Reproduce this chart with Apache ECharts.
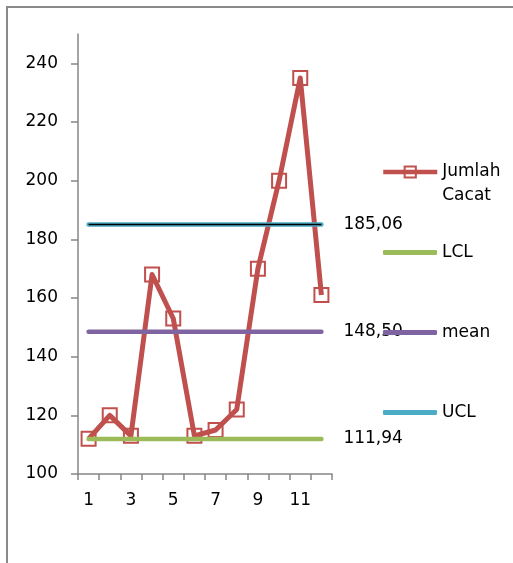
<!DOCTYPE html>
<html><head><meta charset="utf-8">
<script src="https://cdn.jsdelivr.net/npm/echarts@6/dist/echarts.min.js"></script>
<style>
html,body{margin:0;padding:0;background:#fff;overflow:hidden}
#c{width:513px;height:563px;position:absolute;left:0;top:0}
#frame{position:absolute;left:6px;top:6px;width:540px;height:600px;border-left:2px solid #8a8a8a;border-top:2px solid #8a8a8a;pointer-events:none}
</style></head><body>
<div id="c"></div><div id="frame"></div>
<script>
const categories = ['1','2','3','4','5','6','7','8','9','10','11','12'];
const jumlahCacat = [112,120,113,168,153,113,115,122,170,200,235,161];
const lcl  = [111.94,111.94,111.94,111.94,111.94,111.94,111.94,111.94,111.94,111.94,111.94,111.94];
const mean = [148.50,148.50,148.50,148.50,148.50,148.50,148.50,148.50,148.50,148.50,148.50,148.50];
const ucl  = [185.06,185.06,185.06,185.06,185.06,185.06,185.06,185.06,185.06,185.06,185.06,185.06];
const yTicks = [100,120,140,160,180,200,220,240];
const seriesNames = ['Jumlah Cacat','LCL','mean','UCL'];

const FONT = 'DejaVu Sans';
const txt = {fontFamily: FONT, fontSize: 17, color: '#000'};
const fmt = v => v.toFixed(2).replace('.', ',');

function hLine(name, data, color) {
  return {
    name, type: 'line', data, symbol: 'none', z: 3,
    lineStyle: {color, width: 4.5, cap: 'round'},
    itemStyle: {color},
    endLabel: {show: true, distance: 22, formatter: p => fmt(p.value), ...txt}
  };
}

const chart = echarts.init(document.getElementById('c'), null, {renderer: 'canvas'});
const legendBase = {
  orient: 'vertical', left: 383, padding: 0, itemWidth: 54, itemHeight: 5,
  icon: 'roundRect', textStyle: {...txt}, selectedMode: false
};
chart.setOption({
  animation: false,
  backgroundColor: '#fff',
  grid: {left: 78, top: 34, width: 254, height: 440, containLabel: false},
  legend: [
    {orient: 'vertical', left: 381, padding: 0, itemWidth: 54, itemHeight: 14,
     selectedMode: false, top: 136, data: [seriesNames[0]],
     formatter: () => '\nJumlah\nCacat',
     lineStyle: {width: 4.5},
     textStyle: {...txt, lineHeight: 24}},
    {...legendBase, top: 244, data: [seriesNames[1]]},
    {...legendBase, top: 324, data: [seriesNames[2]]},
    {...legendBase, top: 404, data: [seriesNames[3]]}
  ],
  xAxis: {
    type: 'category', data: categories, boundaryGap: true,
    axisLine: {lineStyle: {color: '#868686', width: 1.5}},
    axisTick: {show: true, interval: 0, length: 6, lineStyle: {color: '#868686', width: 1.5}},
    axisLabel: {interval: 1, margin: 18, ...txt},
    splitLine: {show: false}
  },
  yAxis: {
    type: 'value', min: 100, max: 250, interval: 20,
    axisLine: {show: true, lineStyle: {color: '#868686', width: 1.5}},
    axisTick: {show: true, length: 7, customValues: yTicks, lineStyle: {color: '#868686', width: 1.5}},
    axisLabel: {margin: 20, customValues: yTicks, ...txt},
    splitLine: {show: false}
  },
  series: [
    {
      name: seriesNames[0], type: 'line', data: jumlahCacat, z: 2,
      symbol: 'rect', symbolSize: 14,
      lineStyle: {color: '#C0504D', width: 5, join: 'round'},
      itemStyle: {color: 'rgba(255,255,255,0)', borderColor: '#C0504D', borderWidth: 2}
    },
    hLine(seriesNames[1], lcl, '#9BBB59'),
    hLine(seriesNames[2], mean, '#8064A2'),
    hLine(seriesNames[3], ucl, '#4BACC6'),
    {
      name: 'ucl-core', type: 'line', data: ucl, symbol: 'none', z: 4,
      lineStyle: {color: '#000', width: 1.5}, silent: true
    }
  ]
});
</script>
</body></html>
